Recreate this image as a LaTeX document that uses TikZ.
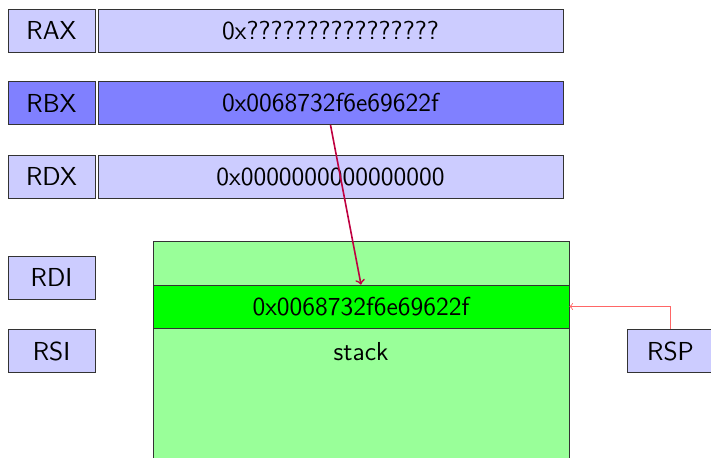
\documentclass[tikz,border=0pt]{standalone}
\usepackage{tikz}

\tikzset{
    reg/.style={draw=black!80, fill=blue!20, minimum width=43.5pt, minimum height=21.5pt,
        inner sep=0pt, font=\sffamily\fontsize{13}{15}\selectfont},
    regval/.style={reg, minimum width=232.5pt},
    stackrow/.style={reg, fill=green, minimum width=208pt}
}

\begin{document}
\begin{tikzpicture}[x=0.5pt, y=-0.5pt]
    \useasboundingbox (0,0) rectangle (711,458);
    \clip (0,0) rectangle (711,458);

    % Registers
    \node[reg] (rax) at (51.5,30.5) {RAX};
    \node[regval] (raxval) at (330.5,30.5) {0x????????????????};
    \node[reg, fill=blue!50] (rbx) at (51.5,103) {RBX};
    \node[regval, fill=blue!50] (rbxval) at (330.5,103) {0x0068732f6e69622f};
    \node[reg] (rdx) at (51.5,176.5) {RDX};
    \node[regval] (rdxval) at (330.5,176.5) {0x0000000000000000};
    \node[reg] (rdi) at (51.5,277.5) {RDI};
    \node[reg] (rsi) at (51.5,351) {RSI};

    % Stack
    \node[draw=black!80, fill=green!40, minimum width=208pt, minimum height=130pt,
        inner sep=0pt, anchor=north] (stack) at (361,241.5) {};
    \node[stackrow] (top) at (361,306.5) {0x0068732f6e69622f};
    \node[font=\sffamily\fontsize{13}{15}\selectfont] (stacklbl) at (361,352) {stack};

    % Stack pointer
    \node[reg] (rsp) at (670.5,351) {RSP};

    % Arrows
    \draw[->, thick, purple] (rbxval.south) -- (top.north);
    \draw[->, red!60] (rsp.north) |- (top.east);
\end{tikzpicture}
\end{document}
